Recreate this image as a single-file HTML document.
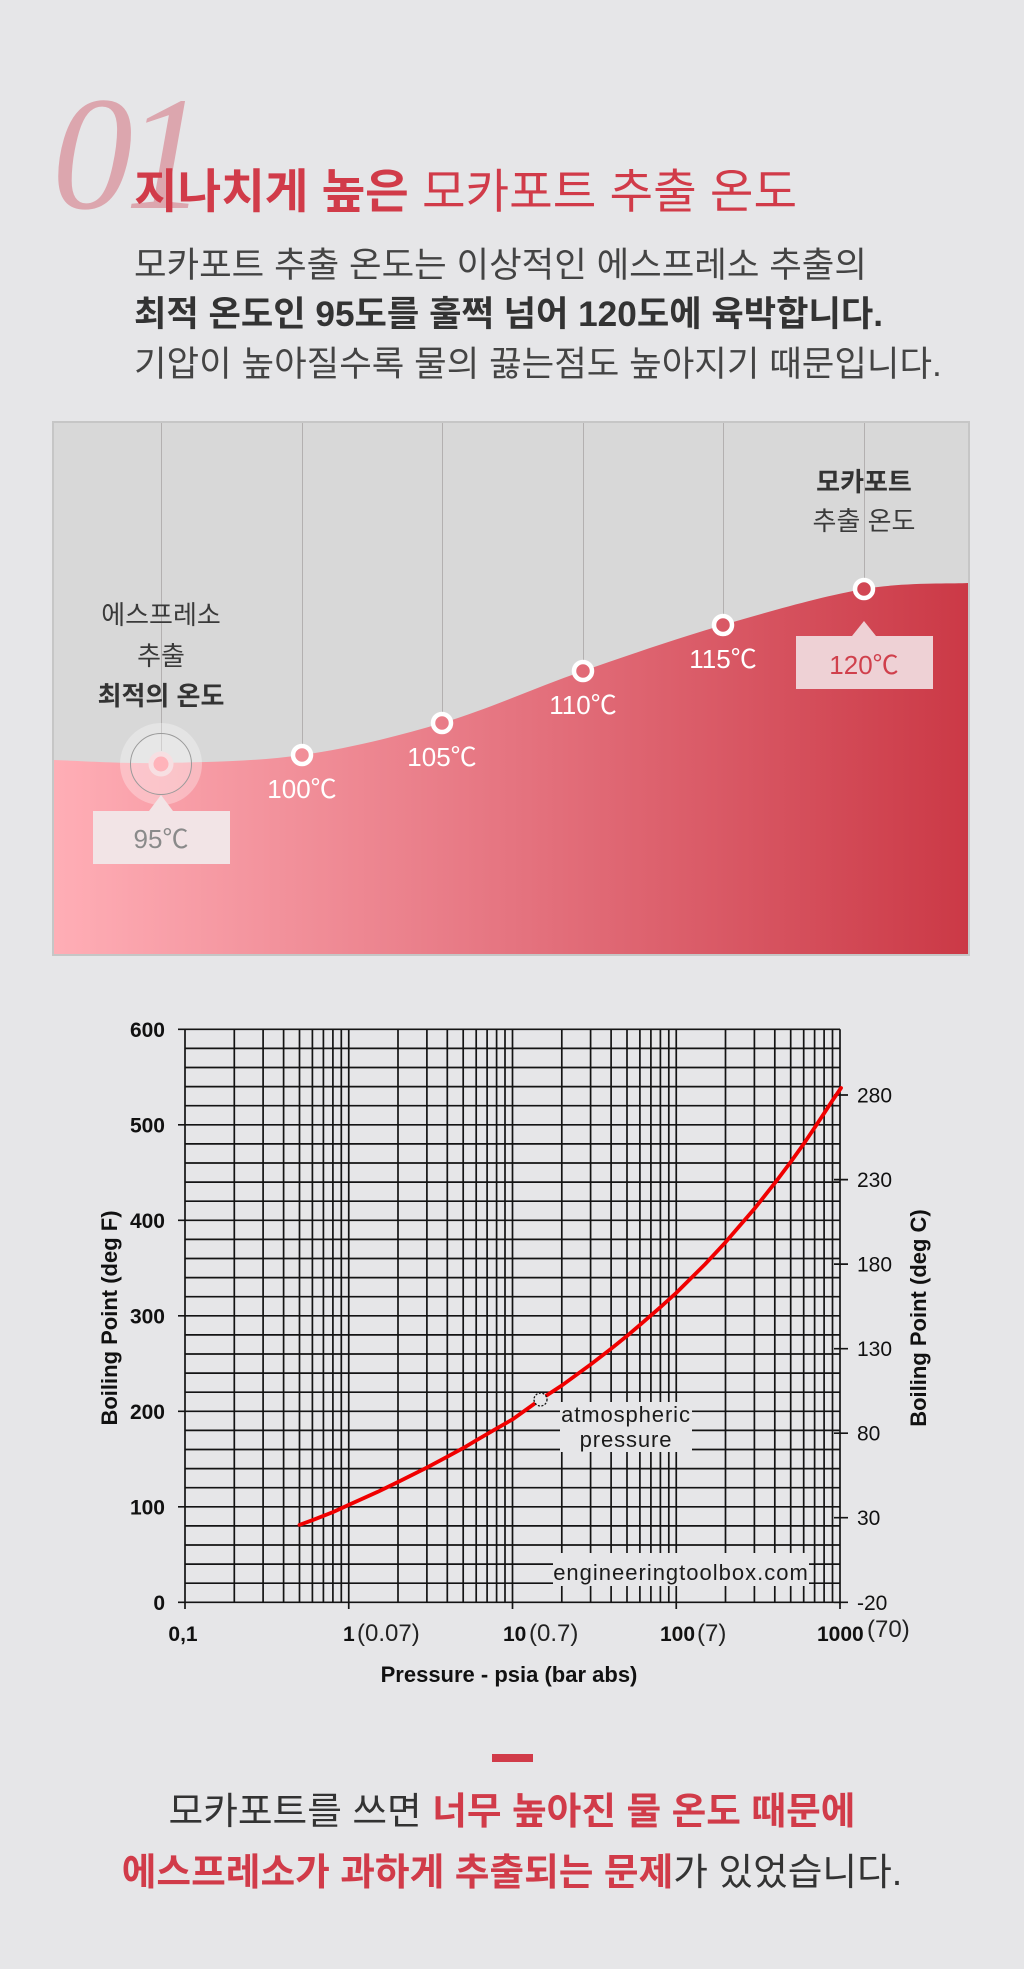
<!DOCTYPE html>
<html>
<head>
<meta charset="utf-8">
<style>
html,body{margin:0;padding:0;background:#e6e6e8;}
body{width:1024px;height:1969px;overflow:hidden;}
svg{display:block;}
.kr{font-family:"Liberation Sans","Noto Sans CJK KR",sans-serif;}
.ar{font-family:"Liberation Sans",Arial,sans-serif;}
</style>
</head>
<body>
<svg width="1024" height="1969" viewBox="0 0 1024 1969" xmlns="http://www.w3.org/2000/svg">
<defs>
  <linearGradient id="g" gradientUnits="userSpaceOnUse" x1="54" y1="0" x2="968" y2="0">
    <stop offset="0" stop-color="#ffaeb6"/>
    <stop offset="0.5" stop-color="#e57480"/>
    <stop offset="1" stop-color="#cb3946"/>
  </linearGradient>
</defs>
<rect width="1024" height="1969" fill="#e6e6e8"/>

<!-- Header -->
<text x="52" y="208" font-family="Liberation Serif, serif" font-style="italic" font-size="162" fill="#dca6ae" letter-spacing="-8">01</text>
<text class="kr" x="134" y="208" font-size="47.4" fill="#d13b49"><tspan font-weight="700">지나치게 높은 </tspan>모카포트 추출 온도</text>

<text class="kr" x="134" y="277" font-size="35.4" fill="#444">모카포트 추출 온도는 이상적인 에스프레소 추출의</text>
<text class="kr" x="134" y="326" font-size="35.2" fill="#333" font-weight="700">최적 온도인 95도를 훌쩍 넘어 120도에 육박합니다.</text>
<text class="kr" x="134" y="376" font-size="35.4" fill="#444">기압이 높아질수록 물의 끓는점도 높아지기 때문입니다.</text>

<!-- Panel -->
<rect x="53" y="422" width="916" height="533" fill="#d8d8d8" stroke="#c6c6c6" stroke-width="2"/>
<path d="M54 760 C72.7 760.5 119.8 763.8 161 763 C202.2 762.2 255.2 761.7 302 755 C348.8 748.3 395.2 737 442 723 C488.8 709 536.2 687.3 583 671 C629.8 654.7 676.2 638.7 723 625 C769.8 611.3 823 596 864 589 C905 582 951.5 584 968 583 L968 954 L54 954 Z" fill="url(#g)"/>

<!-- vertical guide lines -->
<g stroke="#b3b0b0" stroke-width="1">
  <line x1="161.5" y1="423" x2="161.5" y2="751"/>
  <line x1="302.5" y1="423" x2="302.5" y2="744"/>
  <line x1="442.5" y1="423" x2="442.5" y2="712"/>
  <line x1="583.5" y1="423" x2="583.5" y2="660"/>
  <line x1="723.5" y1="423" x2="723.5" y2="614"/>
  <line x1="864.5" y1="423" x2="864.5" y2="578"/>
</g>

<!-- 95 halo -->
<circle cx="161" cy="764" r="41" fill="#ffffff" fill-opacity="0.3"/>
<circle cx="161" cy="764" r="30.5" fill="#ffffff" fill-opacity="0.12" stroke="#9a9a9a" stroke-width="1"/>
<circle cx="161" cy="764" r="10" fill="#ffb3ba" stroke="#f7dfe2" stroke-width="5"/>

<!-- points -->
<g fill="url(#g)" stroke="#ffffff" stroke-width="4.5">
  <circle cx="302" cy="755" r="9"/>
  <circle cx="442" cy="723" r="9"/>
  <circle cx="583" cy="671" r="9"/>
  <circle cx="723" cy="625" r="9"/>
  <circle cx="864" cy="589" r="9"/>
</g>

<!-- panel labels -->
<g class="kr" font-size="26" text-anchor="middle">
  <text x="161" y="624" fill="#3a3a3a">에스프레소</text>
  <text x="161" y="665" fill="#3a3a3a">추출</text>
  <text x="161" y="705" fill="#333" font-weight="700">최적의 온도</text>
  <text x="864" y="491" fill="#333" font-weight="700">모카포트</text>
  <text x="864" y="530" fill="#3a3a3a">추출 온도</text>
  <text x="302" y="798" fill="#fff">100℃</text>
  <text x="442" y="766" fill="#fff">105℃</text>
  <text x="583" y="714" fill="#fff">110℃</text>
  <text x="723" y="668" fill="#fff">115℃</text>
</g>

<!-- 95 box -->
<path d="M161 795 L173 811 L149 811 Z" fill="#f2e4e6"/>
<rect x="93" y="811" width="137" height="53" fill="#f2e4e6"/>
<text class="kr" x="161" y="848" font-size="26" text-anchor="middle" fill="#8a8a8a">95℃</text>

<!-- 120 box -->
<path d="M864 621 L876 636 L852 636 Z" fill="#eed1d5"/>
<rect x="796" y="636" width="137" height="53" fill="#eed1d5"/>
<text class="kr" x="864" y="674" font-size="26" text-anchor="middle" fill="#d0404c">120℃</text>

<!-- Chart grid -->
<g stroke="#141414" stroke-width="1.7" fill="none">
<path d="M185 1602.3H840M185 1583.2H840M185 1564.1H840M185 1545H840M185 1525.9H840M185 1506.8H840M185 1487.7H840M185 1468.6H840M185 1449.5H840M185 1430.4H840M185 1411.3H840M185 1392.2H840M185 1373.1H840M185 1354H840M185 1334.9H840M185 1315.8H840M185 1296.7H840M185 1277.6H840M185 1258.5H840M185 1239.4H840M185 1220.3H840M185 1201.2H840M185 1182.1H840M185 1163H840M185 1143.9H840M185 1124.8H840M185 1105.7H840M185 1086.6H840M185 1067.5H840M185 1048.4H840M185 1029.3H840"/>
<path d="M185 1029.3V1602.3M234.3 1029.3V1602.3M263.1 1029.3V1602.3M283.6 1029.3V1602.3M299.5 1029.3V1602.3M312.4 1029.3V1602.3M323.4 1029.3V1602.3M332.9 1029.3V1602.3M341.3 1029.3V1602.3M348.75 1029.3V1602.3M398 1029.3V1602.3M426.9 1029.3V1602.3M447.3 1029.3V1602.3M463.2 1029.3V1602.3M476.2 1029.3V1602.3M487.1 1029.3V1602.3M496.6 1029.3V1602.3M505 1029.3V1602.3M512.5 1029.3V1602.3M561.8 1029.3V1602.3M590.6 1029.3V1602.3M611.1 1029.3V1602.3M627 1029.3V1602.3M639.9 1029.3V1602.3M650.9 1029.3V1602.3M660.4 1029.3V1602.3M668.8 1029.3V1602.3M676.25 1029.3V1602.3M725.5 1029.3V1602.3M754.4 1029.3V1602.3M774.8 1029.3V1602.3M790.7 1029.3V1602.3M803.7 1029.3V1602.3M814.6 1029.3V1602.3M824.1 1029.3V1602.3M832.5 1029.3V1602.3M840 1029.3V1602.3"/>
<path d="M178 1602.3H185M178 1506.8H185M178 1411.3H185M178 1315.8H185M178 1220.3H185M178 1124.8H185M178 1029.3H185"/>
<path d="M834 1602.3H848M834 1517.7H848M834 1433.2H848M834 1348.7H848M834 1264.1H848M834 1179.6H848M834 1095H848"/>
<path d="M185 1602V1609M348.75 1602V1609M512.5 1602V1609M676.25 1602V1609M840 1602V1609"/>
</g>

<!-- masks -->
<rect x="560" y="1402" width="132" height="50" fill="#e6e6e8"/>
<rect x="553" y="1553" width="256" height="33" fill="#e6e6e8"/>

<!-- curve -->
<polyline fill="none" stroke="#f00000" stroke-width="3.8" stroke-linejoin="round" stroke-linecap="round"
points="299.5,1524.9 312.4,1520.2 332.9,1512.1 348.75,1504.9 377.6,1491.9 398,1482 426.9,1467.6 447.3,1456.7 463.2,1448.1 476.2,1440.4 496.6,1428.5 512.5,1419.4 539.9,1399.8 561.8,1385.5 590.6,1364.5 611.1,1348.7 627,1335.9 639.9,1324.9 660.4,1307.2 676.25,1292.9 705.1,1264.2 725.5,1242.3 754.4,1208.8 774.8,1183.1 790.7,1162 803.7,1143.9 814.6,1127.7 824.1,1113.3 832.5,1100.4 841,1088"/>
<circle cx="540.5" cy="1399.5" r="6.5" fill="#e6e6e8" stroke="#111" stroke-width="1.3" stroke-dasharray="2 1.6"/>

<!-- chart text -->
<g class="ar" fill="#111">
  <g font-size="21" font-weight="700" text-anchor="end">
    <text x="165" y="1036.8">600</text>
    <text x="165" y="1132.3">500</text>
    <text x="165" y="1227.8">400</text>
    <text x="165" y="1323.3">300</text>
    <text x="165" y="1418.8">200</text>
    <text x="165" y="1514.3">100</text>
    <text x="165" y="1609.8">0</text>
  </g>
  <g font-size="21">
    <text x="857" y="1102.5">280</text>
    <text x="857" y="1187.1">230</text>
    <text x="857" y="1271.6">180</text>
    <text x="857" y="1356.2">130</text>
    <text x="857" y="1440.7">80</text>
    <text x="857" y="1525.2">30</text>
    <text x="857" y="1609.8">-20</text>
  </g>
  <g font-size="21" font-weight="700">
    <text x="183" y="1641" text-anchor="middle">0,1</text>
    <text x="343" y="1641">1</text>
    <text x="503" y="1641">10</text>
    <text x="660" y="1641">100</text>
    <text x="817" y="1641">1000</text>
  </g>
  <g font-size="24" fill="#222">
    <text x="357" y="1641">(0.07)</text>
    <text x="529" y="1641">(0.7)</text>
    <text x="697" y="1641">(7)</text>
    <text x="867" y="1637">(70)</text>
  </g>
  <text x="509" y="1682" font-size="22" font-weight="700" text-anchor="middle">Pressure - psia (bar abs)</text>
  <text transform="translate(117,1318) rotate(-90)" font-size="22" font-weight="700" text-anchor="middle">Boiling Point (deg F)</text>
  <text transform="translate(926,1318) rotate(-90)" font-size="22" font-weight="700" text-anchor="middle">Boiling Point (deg C)</text>
  <g font-size="22" text-anchor="middle" fill="#1a1a1a" letter-spacing="0.9">
    <text x="626" y="1422">atmospheric</text>
    <text x="626" y="1447">pressure</text>
  </g>
  <text x="681" y="1580" font-size="22" text-anchor="middle" fill="#1a1a1a" letter-spacing="1">engineeringtoolbox.com</text>
</g>

<!-- bottom -->
<rect x="492" y="1754" width="41" height="8" fill="#d13b49"/>
<text class="kr" x="512" y="1824" font-size="37.7" text-anchor="middle"><tspan fill="#333">모카포트를 쓰면 </tspan><tspan fill="#d13b49" font-weight="700">너무 높아진 물 온도 때문에</tspan></text>
<text class="kr" x="512" y="1885" font-size="37.7" text-anchor="middle"><tspan fill="#d13b49" font-weight="700">에스프레소가 과하게 추출되는 문제</tspan><tspan fill="#333">가 있었습니다.</tspan></text>
</svg>
</body>
</html>
